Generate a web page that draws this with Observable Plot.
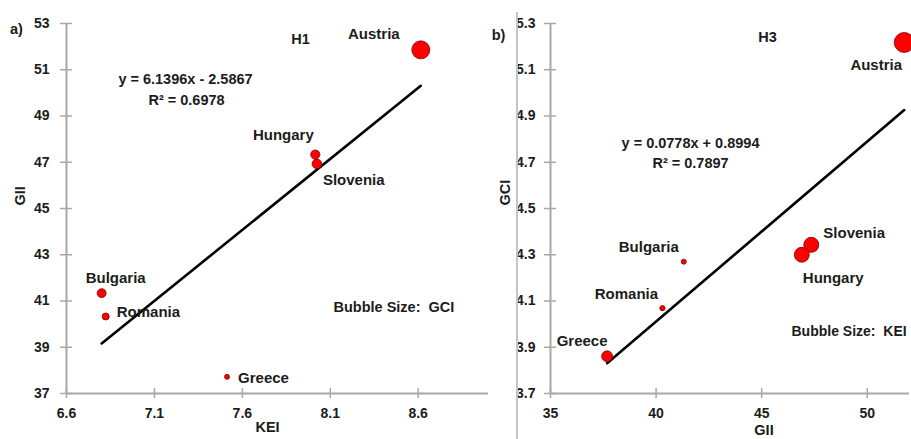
<!DOCTYPE html>
<html><head><meta charset="utf-8">
<script src="https://cdn.jsdelivr.net/npm/d3@7"></script>
<script src="https://cdn.jsdelivr.net/npm/@observablehq/plot@0.6"></script>
<style>
html,body{margin:0;padding:0;background:#fff;overflow:hidden;}
#wrap{position:relative;width:911px;height:439px;overflow:hidden;background:#fff;}
#left,#right{position:absolute;top:0;}
#left{left:0;}
#right{left:516px;}
#sep{position:absolute;left:516px;top:12px;width:1.5px;height:427px;background:#c4c4c4;}
</style></head>
<body><div id="wrap"><div id="left"></div><div id="right"></div><div id="sep"></div></div>
<script>
// ---------- data ----------
const countries = ["Austria", "Hungary", "Slovenia", "Bulgaria", "Romania", "Greece"];
// Panel a) H1 : KEI vs GII, bubble size GCI
const keiA = [8.615, 8.015, 8.024, 6.80, 6.823, 7.513];
const giiA = [51.86, 47.33, 46.93, 41.34, 40.33, 37.72];
const gciSizeA = [5.22, 4.30, 4.34, 4.27, 4.07, 3.86];
// Panel b) H3 : GII vs GCI, bubble size KEI
const giiB = [51.75, 46.9, 47.35, 41.31, 40.3, 37.68];
const gciB = [5.218, 4.30, 4.343, 4.27, 4.069, 3.861];
const keiSizeB = [8.615, 8.00, 8.02, 6.80, 6.823, 7.513];
// trendlines (as printed on the chart)
const trendA = {slope: 6.1396, intercept: -2.5867, eq: "y = 6.1396x - 2.5867", r2: "R² = 0.6978"};
const trendB = {slope: 0.0778, intercept: 0.8994, eq: "y = 0.0778x + 0.8994", r2: "R² = 0.7897"};
// axes
const keiDomain = [6.6, 9.0];
const keiTicks = [6.6, 7.1, 7.6, 8.1, 8.6];
const giiDomainA = [37, 53];
const giiTicksA = [37, 39, 41, 43, 45, 47, 49, 51, 53];
const giiDomainB = [35, 52];
const giiTicksB = [35, 40, 45, 50];
const gciDomain = [3.7, 5.3];
const gciTicks = [3.7, 3.9, 4.1, 4.3, 4.5, 4.7, 4.9, 5.1, 5.3];

// ---------- layout / style ----------
const font = "'Liberation Sans', Arial, sans-serif";
const fsLabel = 15;
const fsNote = 14.5;
const fsTick = 14;
const axisGray = "#a8a8a8";
const ink = "#1c1c1c";
const baseStyle = {fontFamily: font, fontWeight: "bold", fontSize: "14px", color: ink, background: "transparent", overflow: "visible"};
const labelOffA = {
  Austria: {dx: -47, dy: -16, anchor: "middle"},
  Hungary: {dx: -32, dy: -19, anchor: "middle"},
  Slovenia: {dx: 6, dy: 16, anchor: "start"},
  Bulgaria: {dx: 14, dy: -15, anchor: "middle"},
  Romania: {dx: 11, dy: -4, anchor: "start"},
  Greece: {dx: 11, dy: 1, anchor: "start"}
};
const labelOffB = {
  Austria: {dx: -28, dy: 23, anchor: "middle"},
  Hungary: {dx: 1, dy: 23, anchor: "start"},
  Slovenia: {dx: 12, dy: -12, anchor: "start"},
  Bulgaria: {dx: -35, dy: -15, anchor: "middle"},
  Romania: {dx: -36, dy: -14, anchor: "middle"},
  Greece: {dx: -25, dy: -15, anchor: "middle"}
};

const rowsA = countries.map((c, i) => ({country: c, x: keiA[i], y: giiA[i], s: gciSizeA[i]}));
const rowsB = countries.map((c, i) => ({country: c, x: giiB[i], y: gciB[i], s: keiSizeB[i]}));

function trendPts(rows, t) {
  const xs = d3.extent(rows, d => d.x);
  return xs.map(x => ({x, y: t.slope * x + t.intercept}));
}

function axisMarks(xDom, xTicks, yDom, yTicks, xFmt, yFmt, yPad) {
  return [
    Plot.ruleY([yDom[0]], {x1: xDom[0], x2: xDom[1], stroke: axisGray, strokeWidth: 2}),
    Plot.ruleX([xDom[0]], {y1: yDom[0], y2: yDom[1], stroke: axisGray, strokeWidth: 2}),
    Plot.ruleY(yTicks, {y: d => d, x1: xDom[0], x2: xDom[0], insetLeft: -6, insetRight: -6, stroke: axisGray, strokeWidth: 1.5}),
    Plot.ruleX(xTicks, {x: d => d, y1: yDom[0], y2: yDom[0], insetTop: -5, insetBottom: -5, stroke: axisGray, strokeWidth: 1.5}),
    Plot.axisX({ticks: xTicks, tickSize: 0, tickPadding: 15, tickFormat: xFmt, label: null, fontSize: fsTick, fontWeight: "bold", fill: ink}),
    Plot.axisY({ticks: yTicks, tickSize: 0, tickPadding: yPad, tickFormat: yFmt, label: null, fontSize: fsTick, fontWeight: "bold", fill: ink})
  ];
}

function labelMarks(rows, offs) {
  return rows.map(r => Plot.text([r], {
    x: "x", y: "y", text: "country",
    dx: offs[r.country].dx, dy: offs[r.country].dy, textAnchor: offs[r.country].anchor,
    fontSize: fsLabel, fontWeight: "bold", fill: ink
  }));
}

function note(text, dx, dy, anchor = "middle", fs = fsNote) {
  return Plot.text([text], {frameAnchor: "top-left", text: d => d, dx, dy, textAnchor: anchor, fontSize: fs, fontWeight: "bold", fill: ink});
}

const fmt1 = d => d.toFixed(1);

const plotA = Plot.plot({
  width: 516, height: 439,
  marginLeft: 66, marginRight: 28, marginTop: 23, marginBottom: 46,
  x: {domain: keiDomain},
  y: {domain: giiDomainA},
  r: {type: "linear", domain: [3.86, 5.22], range: [2.5, 9]},
  style: baseStyle,
  marks: [
    ...axisMarks(keiDomain, keiTicks, giiDomainA, giiTicksA, fmt1, d => String(d), 17),
    Plot.line(trendPts(rowsA, trendA), {x: "x", y: "y", stroke: "#000", strokeWidth: 2.6}),
    Plot.dot(rowsA, {x: "x", y: "y", r: "s", fill: "#ff0000", stroke: "#7a0000", strokeWidth: 0.8}),
    ...labelMarks(rowsA, labelOffA),
    note("a)", -50, 0),
    note("H1", 234, 10),
    note(trendA.eq, 119, 50),
    note(trendA.r2, 120, 71),
    note("Bubble Size:\u00a0\u00a0GCI", 267, 278, "start"),
    Plot.text(["KEI"], {frameAnchor: "bottom", text: d => d, dx: -10, dy: 38, fontSize: fsNote, fontWeight: "bold", fill: ink}),
    Plot.text(["GII"], {frameAnchor: "left", text: d => d, dx: -46, dy: -3, rotate: -90, fontSize: fsNote, fontWeight: "bold", fill: ink})
  ]
});
document.getElementById("left").appendChild(plotA);

const plotB = Plot.plot({
  width: 395, height: 439,
  marginLeft: 34, marginRight: 2, marginTop: 23, marginBottom: 46,
  x: {domain: giiDomainB},
  y: {domain: gciDomain},
  r: {type: "linear", domain: [6.8, 8.615], range: [2.5, 10]},
  style: baseStyle,
  marks: [
    ...axisMarks(giiDomainB, giiTicksB, gciDomain, gciTicks, d => String(d), fmt1, 15),
    Plot.line(trendPts(rowsB, trendB), {x: "x", y: "y", stroke: "#000", strokeWidth: 2.6}),
    Plot.dot(rowsB, {x: "x", y: "y", r: "s", fill: "#ff0000", stroke: "#7a0000", strokeWidth: 0.8}),
    ...labelMarks(rowsB, labelOffB),
    note("b)", -52, 6),
    note("H3", 217, 8),
    note(trendB.eq, 140, 114),
    note(trendB.r2, 140, 134),
    note("Bubble Size:\u00a0\u00a0KEI", 241, 303, "start", 14),
    Plot.text(["GII"], {frameAnchor: "bottom", text: d => d, dx: 34, dy: 41, fontSize: fsNote, fontWeight: "bold", fill: ink}),
    Plot.text(["GCI"], {frameAnchor: "left", text: d => d, dx: -45, dy: -3, rotate: -90, fontSize: fsNote, fontWeight: "bold", fill: ink})
  ]
});
document.getElementById("right").appendChild(plotB);
</script>
</body></html>
